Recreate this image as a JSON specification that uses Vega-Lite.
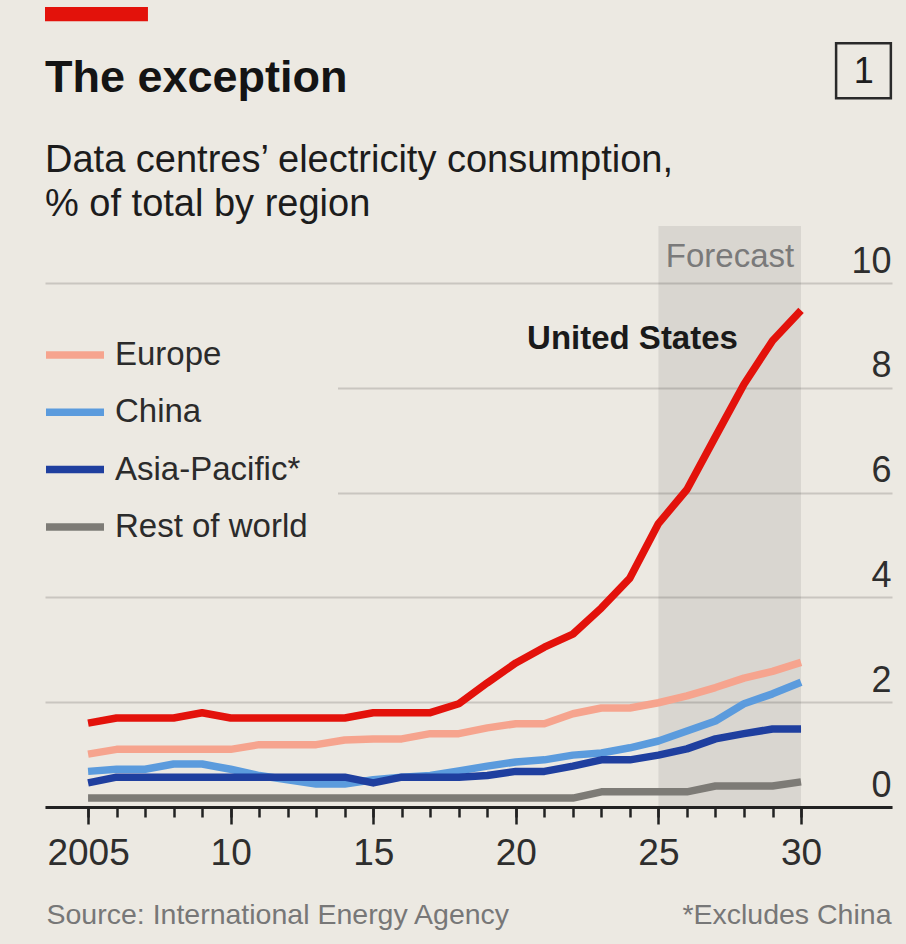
{
  "$schema": "https://vega.github.io/schema/vega-lite/v6.json",
  "width": 847,
  "height": 581,
  "autosize": {"type": "none"},
  "padding": {"top": 226, "left": 45, "right": 14, "bottom": 137},
  "background": "#ece9e2",
  "title": {
    "text": "The exception",
    "subtitle": ["Data centres’ electricity consumption,", "% of total by region"],
    "anchor": "start",
    "frame": "group",
    "offset": -217,
    "font": "Liberation Sans, Arial, sans-serif",
    "fontSize": 45,
    "fontWeight": "bold",
    "color": "#141414",
    "subtitleFont": "Liberation Sans, Arial, sans-serif",
    "subtitleFontSize": 38,
    "subtitleColor": "#1c1c1c",
    "subtitleLineHeight": 44,
    "subtitlePadding": 41
  },
  "layer": [
    {
      "data": {"values": [{"start": 2025, "end": 2030}]},
      "mark": {"type": "rect", "fill": "#000000", "opacity": 0.08},
      "encoding": {
        "x": {
          "field": "start",
          "type": "quantitative",
          "scale": {"domain": [2003.49, 2033.19], "nice": false, "zero": false},
          "axis": {
            "orient": "bottom",
            "values": [2005,2006,2007,2008,2009,2010,2011,2012,2013,2014,2015,2016,2017,2018,2019,2020,2021,2022,2023,2024,2025,2026,2027,2028,2029,2030],
            "labels": false,
            "domain": false,
            "grid": false,
            "ticks": true,
            "tickColor": "#222222",
            "tickWidth": 2.5,
            "tickSize": 10,
            "title": "*Excludes China",
            "titleX": 846,
            "titleY": 116,
            "titleAlign": "right",
            "titleAnchor": "end",
            "titleBaseline": "alphabetic",
            "titleFont": "Liberation Sans, Arial, sans-serif",
            "titleFontSize": 28.5,
            "titleFontWeight": "normal",
            "titleColor": "#777777",
            "zindex": 1
          }
        },
        "x2": {"field": "end"}
      }
    },
    {
      "data": {"values": [{"label": "Forecast"}]},
      "mark": {"type": "text", "font": "Liberation Sans, Arial, sans-serif", "fontSize": 33, "color": "#7a7a7a", "align": "center", "baseline": "alphabetic"},
      "encoding": {
        "text": {"field": "label"},
        "x": {"datum": 2027.51, "axis": null},
        "y": {"datum": 10.31}
      }
    },
    {
      "data": {
        "values": [
          {"year":2005,"region":"Rest of world","value":0.17},{"year":2006,"region":"Rest of world","value":0.17},{"year":2007,"region":"Rest of world","value":0.17},{"year":2008,"region":"Rest of world","value":0.17},{"year":2009,"region":"Rest of world","value":0.17},{"year":2010,"region":"Rest of world","value":0.17},{"year":2011,"region":"Rest of world","value":0.17},{"year":2012,"region":"Rest of world","value":0.17},{"year":2013,"region":"Rest of world","value":0.17},{"year":2014,"region":"Rest of world","value":0.17},{"year":2015,"region":"Rest of world","value":0.17},{"year":2016,"region":"Rest of world","value":0.17},{"year":2017,"region":"Rest of world","value":0.17},{"year":2018,"region":"Rest of world","value":0.17},{"year":2019,"region":"Rest of world","value":0.17},{"year":2020,"region":"Rest of world","value":0.17},{"year":2021,"region":"Rest of world","value":0.17},{"year":2022,"region":"Rest of world","value":0.17},{"year":2023,"region":"Rest of world","value":0.29},{"year":2024,"region":"Rest of world","value":0.29},{"year":2025,"region":"Rest of world","value":0.29},{"year":2026,"region":"Rest of world","value":0.29},{"year":2027,"region":"Rest of world","value":0.4},{"year":2028,"region":"Rest of world","value":0.4},{"year":2029,"region":"Rest of world","value":0.4},{"year":2030,"region":"Rest of world","value":0.48},
          {"year":2005,"region":"China","value":0.68},{"year":2006,"region":"China","value":0.72},{"year":2007,"region":"China","value":0.72},{"year":2008,"region":"China","value":0.82},{"year":2009,"region":"China","value":0.82},{"year":2010,"region":"China","value":0.72},{"year":2011,"region":"China","value":0.6},{"year":2012,"region":"China","value":0.52},{"year":2013,"region":"China","value":0.44},{"year":2014,"region":"China","value":0.44},{"year":2015,"region":"China","value":0.52},{"year":2016,"region":"China","value":0.57},{"year":2017,"region":"China","value":0.6},{"year":2018,"region":"China","value":0.69},{"year":2019,"region":"China","value":0.78},{"year":2020,"region":"China","value":0.86},{"year":2021,"region":"China","value":0.9},{"year":2022,"region":"China","value":0.99},{"year":2023,"region":"China","value":1.03},{"year":2024,"region":"China","value":1.13},{"year":2025,"region":"China","value":1.26},{"year":2026,"region":"China","value":1.45},{"year":2027,"region":"China","value":1.64},{"year":2028,"region":"China","value":1.97},{"year":2029,"region":"China","value":2.16},{"year":2030,"region":"China","value":2.38},
          {"year":2005,"region":"Asia-Pacific*","value":0.46},{"year":2006,"region":"Asia-Pacific*","value":0.57},{"year":2007,"region":"Asia-Pacific*","value":0.57},{"year":2008,"region":"Asia-Pacific*","value":0.57},{"year":2009,"region":"Asia-Pacific*","value":0.57},{"year":2010,"region":"Asia-Pacific*","value":0.57},{"year":2011,"region":"Asia-Pacific*","value":0.57},{"year":2012,"region":"Asia-Pacific*","value":0.57},{"year":2013,"region":"Asia-Pacific*","value":0.57},{"year":2014,"region":"Asia-Pacific*","value":0.57},{"year":2015,"region":"Asia-Pacific*","value":0.46},{"year":2016,"region":"Asia-Pacific*","value":0.57},{"year":2017,"region":"Asia-Pacific*","value":0.57},{"year":2018,"region":"Asia-Pacific*","value":0.57},{"year":2019,"region":"Asia-Pacific*","value":0.6},{"year":2020,"region":"Asia-Pacific*","value":0.68},{"year":2021,"region":"Asia-Pacific*","value":0.68},{"year":2022,"region":"Asia-Pacific*","value":0.78},{"year":2023,"region":"Asia-Pacific*","value":0.9},{"year":2024,"region":"Asia-Pacific*","value":0.9},{"year":2025,"region":"Asia-Pacific*","value":0.99},{"year":2026,"region":"Asia-Pacific*","value":1.11},{"year":2027,"region":"Asia-Pacific*","value":1.3},{"year":2028,"region":"Asia-Pacific*","value":1.4},{"year":2029,"region":"Asia-Pacific*","value":1.49},{"year":2030,"region":"Asia-Pacific*","value":1.49},
          {"year":2005,"region":"Europe","value":1.01},{"year":2006,"region":"Europe","value":1.1},{"year":2007,"region":"Europe","value":1.1},{"year":2008,"region":"Europe","value":1.1},{"year":2009,"region":"Europe","value":1.1},{"year":2010,"region":"Europe","value":1.1},{"year":2011,"region":"Europe","value":1.19},{"year":2012,"region":"Europe","value":1.19},{"year":2013,"region":"Europe","value":1.19},{"year":2014,"region":"Europe","value":1.28},{"year":2015,"region":"Europe","value":1.3},{"year":2016,"region":"Europe","value":1.3},{"year":2017,"region":"Europe","value":1.4},{"year":2018,"region":"Europe","value":1.4},{"year":2019,"region":"Europe","value":1.51},{"year":2020,"region":"Europe","value":1.59},{"year":2021,"region":"Europe","value":1.59},{"year":2022,"region":"Europe","value":1.78},{"year":2023,"region":"Europe","value":1.89},{"year":2024,"region":"Europe","value":1.89},{"year":2025,"region":"Europe","value":1.99},{"year":2026,"region":"Europe","value":2.12},{"year":2027,"region":"Europe","value":2.28},{"year":2028,"region":"Europe","value":2.46},{"year":2029,"region":"Europe","value":2.59},{"year":2030,"region":"Europe","value":2.76},
          {"year":2005,"region":"United States","value":1.6},{"year":2006,"region":"United States","value":1.7},{"year":2007,"region":"United States","value":1.7},{"year":2008,"region":"United States","value":1.7},{"year":2009,"region":"United States","value":1.8},{"year":2010,"region":"United States","value":1.7},{"year":2011,"region":"United States","value":1.7},{"year":2012,"region":"United States","value":1.7},{"year":2013,"region":"United States","value":1.7},{"year":2014,"region":"United States","value":1.7},{"year":2015,"region":"United States","value":1.8},{"year":2016,"region":"United States","value":1.8},{"year":2017,"region":"United States","value":1.8},{"year":2018,"region":"United States","value":1.97},{"year":2019,"region":"United States","value":2.37},{"year":2020,"region":"United States","value":2.75},{"year":2021,"region":"United States","value":3.05},{"year":2022,"region":"United States","value":3.3},{"year":2023,"region":"United States","value":3.8},{"year":2024,"region":"United States","value":4.37},{"year":2025,"region":"United States","value":5.41},{"year":2026,"region":"United States","value":6.06},{"year":2027,"region":"United States","value":7.07},{"year":2028,"region":"United States","value":8.07},{"year":2029,"region":"United States","value":8.9},{"year":2030,"region":"United States","value":9.48}
        ]
      },
      "mark": {"type": "line", "strokeWidth": 7.5, "strokeJoin": "round", "strokeCap": "butt"},
      "encoding": {
        "x": {
          "field": "year",
          "type": "quantitative",
          "axis": {
            "orient": "bottom",
            "values": [2005, 2010, 2015, 2020, 2025, 2030],
            "format": "d",
            "labelExpr": "datum.value == 2005 ? '2005' : substring(datum.label, 2, 4)",
            "grid": false,
            "domain": true,
            "domainColor": "#222222",
            "domainWidth": 3,
            "ticks": true,
            "tickColor": "#222222",
            "tickWidth": 2.5,
            "tickSize": 17,
            "labelFont": "Liberation Sans, Arial, sans-serif",
            "labelFontSize": 37,
            "labelColor": "#2e2e2e",
            "labelPadding": 11,
            "labelFlush": false,
            "labelOverlap": false,
            "title": "Source: International Energy Agency",
            "titleX": 1,
            "titleY": 116,
            "titleAlign": "left",
            "titleAnchor": "start",
            "titleBaseline": "alphabetic",
            "titleFont": "Liberation Sans, Arial, sans-serif",
            "titleFontSize": 28.5,
            "titleFontWeight": "normal",
            "titleColor": "#777777",
            "zindex": 1
          }
        },
        "y": {
          "field": "value",
          "type": "quantitative",
          "scale": {"domain": [0, 11.09], "nice": false},
          "axis": {
            "orient": "right",
            "values": [0, 2, 4, 6, 8, 10],
            "title": null,
            "domain": false,
            "ticks": false,
            "tickSize": 0,
            "grid": true,
            "gridColor": "#c9c6c0",
            "gridWidth": 2,
            "labelAlign": "right",
            "labelBaseline": "alphabetic",
            "labelPadding": -1,
            "labelOffset": -11,
            "labelFont": "Liberation Sans, Arial, sans-serif",
            "labelFontSize": 36,
            "labelColor": "#2e2e2e",
            "zindex": 0
          }
        },
        "color": {
          "field": "region",
          "type": "nominal",
          "scale": {
            "domain": ["Europe", "China", "Asia-Pacific*", "Rest of world", "United States"],
            "range": ["#f6a48e", "#5b9bdd", "#1f3f9f", "#7d7b76", "#e3120b"]
          },
          "legend": {
            "values": ["Europe", "China", "Asia-Pacific*", "Rest of world"],
            "orient": "none",
            "legendX": -33,
            "legendY": 66,
            "title": null,
            "padding": 30,
            "fillColor": "#ece9e2",
            "symbolType": "stroke",
            "symbolSize": 3364,
            "symbolStrokeWidth": 7.5,
            "labelFont": "Liberation Sans, Arial, sans-serif",
            "labelFontSize": 33,
            "labelColor": "#2b2b2b",
            "labelOffset": 7,
            "labelLimit": 400,
            "rowPadding": 7.3
          }
        }
      }
    },
    {
      "data": {"values": [{"label": "United States"}]},
      "mark": {"type": "text", "font": "Liberation Sans, Arial, sans-serif", "fontSize": 33, "fontWeight": "bold", "color": "#1a1a1a", "align": "center", "baseline": "alphabetic"},
      "encoding": {
        "text": {"field": "label"},
        "x": {"datum": 2024.09, "axis": null},
        "y": {"datum": 8.74}
      }
    },
    {
      "data": {"values": [{"label": "bar"}]},
      "mark": {"type": "rect", "fill": "#e3120b"},
      "encoding": {
        "x": {"datum": 2003.49, "axis": null},
        "x2": {"datum": 2007.1},
        "y": {"datum": 15.27},
        "y2": {"datum": 15.0}
      }
    },
    {
      "data": {"values": [{"label": "box"}]},
      "mark": {"type": "rect", "filled": false, "stroke": "#2a2a2a", "strokeWidth": 2.5},
      "encoding": {
        "x": {"datum": 2031.23, "axis": null},
        "x2": {"datum": 2033.15},
        "y": {"datum": 14.58},
        "y2": {"datum": 13.53}
      }
    },
    {
      "data": {"values": [{"label": "1"}]},
      "mark": {"type": "text", "font": "Liberation Sans, Arial, sans-serif", "fontSize": 36, "color": "#1e1e1e", "align": "center", "baseline": "alphabetic"},
      "encoding": {
        "text": {"field": "label"},
        "x": {"datum": 2032.2, "axis": null},
        "y": {"datum": 13.82}
      }
    }
  ],
  "resolve": {"axis": {"x": "independent"}},
  "config": {
    "view": {"stroke": null},
    "font": "Liberation Sans, Arial, sans-serif"
  }
}
